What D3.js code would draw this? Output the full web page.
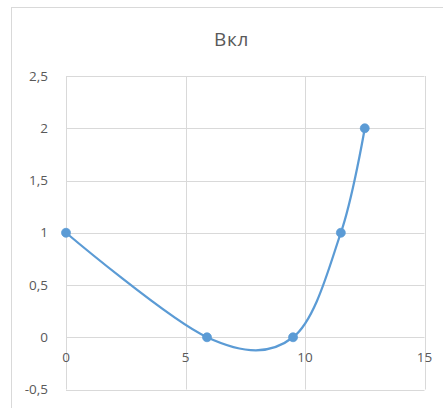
<!DOCTYPE html>
<html><head><meta charset="utf-8">
<script src="https://cdn.jsdelivr.net/npm/d3@7"></script>
<style>
html,body{margin:0;padding:0;background:#fff;}
text{font-family:"Open Sans","Noto Sans",sans-serif;}
</style></head>
<body>
<script>
const title = "Вкл";
const xValues = [0, 5.9, 9.5, 11.5, 12.5];
const yValues = [1, 0, 0, 1, 2];
const xTicks = [0, 5, 10, 15];
const yTicks = [-0.5, 0, 0.5, 1, 1.5, 2, 2.5];

const W = 443, H = 408;
const svg = d3.select("body").append("svg").attr("width", W).attr("height", H);

svg.append("rect").attr("x", 11.5).attr("y", 7.5).attr("width", 440).attr("height", 420)
  .attr("fill", "#fff").attr("stroke", "#d9d9d9").attr("stroke-width", 1);

const x = d3.scaleLinear().domain([0, 15]).range([66, 424.5]);
const y = d3.scaleLinear().domain([-0.5, 2.5]).range([389.5, 76]);

const fmt = d => String(d).replace(".", ",");

// gridlines
svg.append("g").selectAll("line").data(yTicks).join("line")
  .attr("x1", x(0)).attr("x2", x(15))
  .attr("y1", d => Math.round(y(d)) + 0.5).attr("y2", d => Math.round(y(d)) + 0.5)
  .attr("stroke", "#d9d9d9").attr("stroke-width", 1);
svg.append("g").selectAll("line").data(xTicks).join("line")
  .attr("y1", y(-0.5)).attr("y2", y(2.5))
  .attr("x1", d => Math.round(x(d)) + 0.5).attr("x2", d => Math.round(x(d)) + 0.5)
  .attr("stroke", "#d9d9d9").attr("stroke-width", 1);

// y tick labels
svg.append("g").selectAll("text").data(yTicks).join("text")
  .attr("x", 48).attr("y", d => y(d)).attr("dy", "0.35em")
  .attr("text-anchor", "end").attr("font-size", 13.5).attr("fill", "#595959")
  .text(fmt);

// x tick labels at y=0 axis
svg.append("g").selectAll("text").data(xTicks).join("text")
  .attr("x", d => x(d)).attr("y", y(0) + 25)
  .attr("text-anchor", "middle").attr("font-size", 13.5).attr("fill", "#595959")
  .text(fmt);

// title
svg.append("text").attr("x", 231.5).attr("y", 46).attr("text-anchor", "middle")
  .attr("font-size", 19).attr("letter-spacing", 0.6).attr("fill", "#595959").text(title);

const pts = xValues.map((v, i) => [v, yValues[i]]);
const line = d3.line().x(d => x(d[0])).y(d => y(d[1])).curve(d3.curveCatmullRom.alpha(0));
svg.append("path").attr("d", line(pts)).attr("fill", "none")
  .attr("stroke", "#5b9bd5").attr("stroke-width", 2.25).attr("stroke-linecap", "round");

svg.append("g").selectAll("circle").data(pts).join("circle")
  .attr("cx", d => x(d[0])).attr("cy", d => y(d[1])).attr("r", 4.5)
  .attr("fill", "#5b9bd5").attr("stroke", "#5b9bd5").attr("stroke-width", 0.75);
</script>
</body></html>
